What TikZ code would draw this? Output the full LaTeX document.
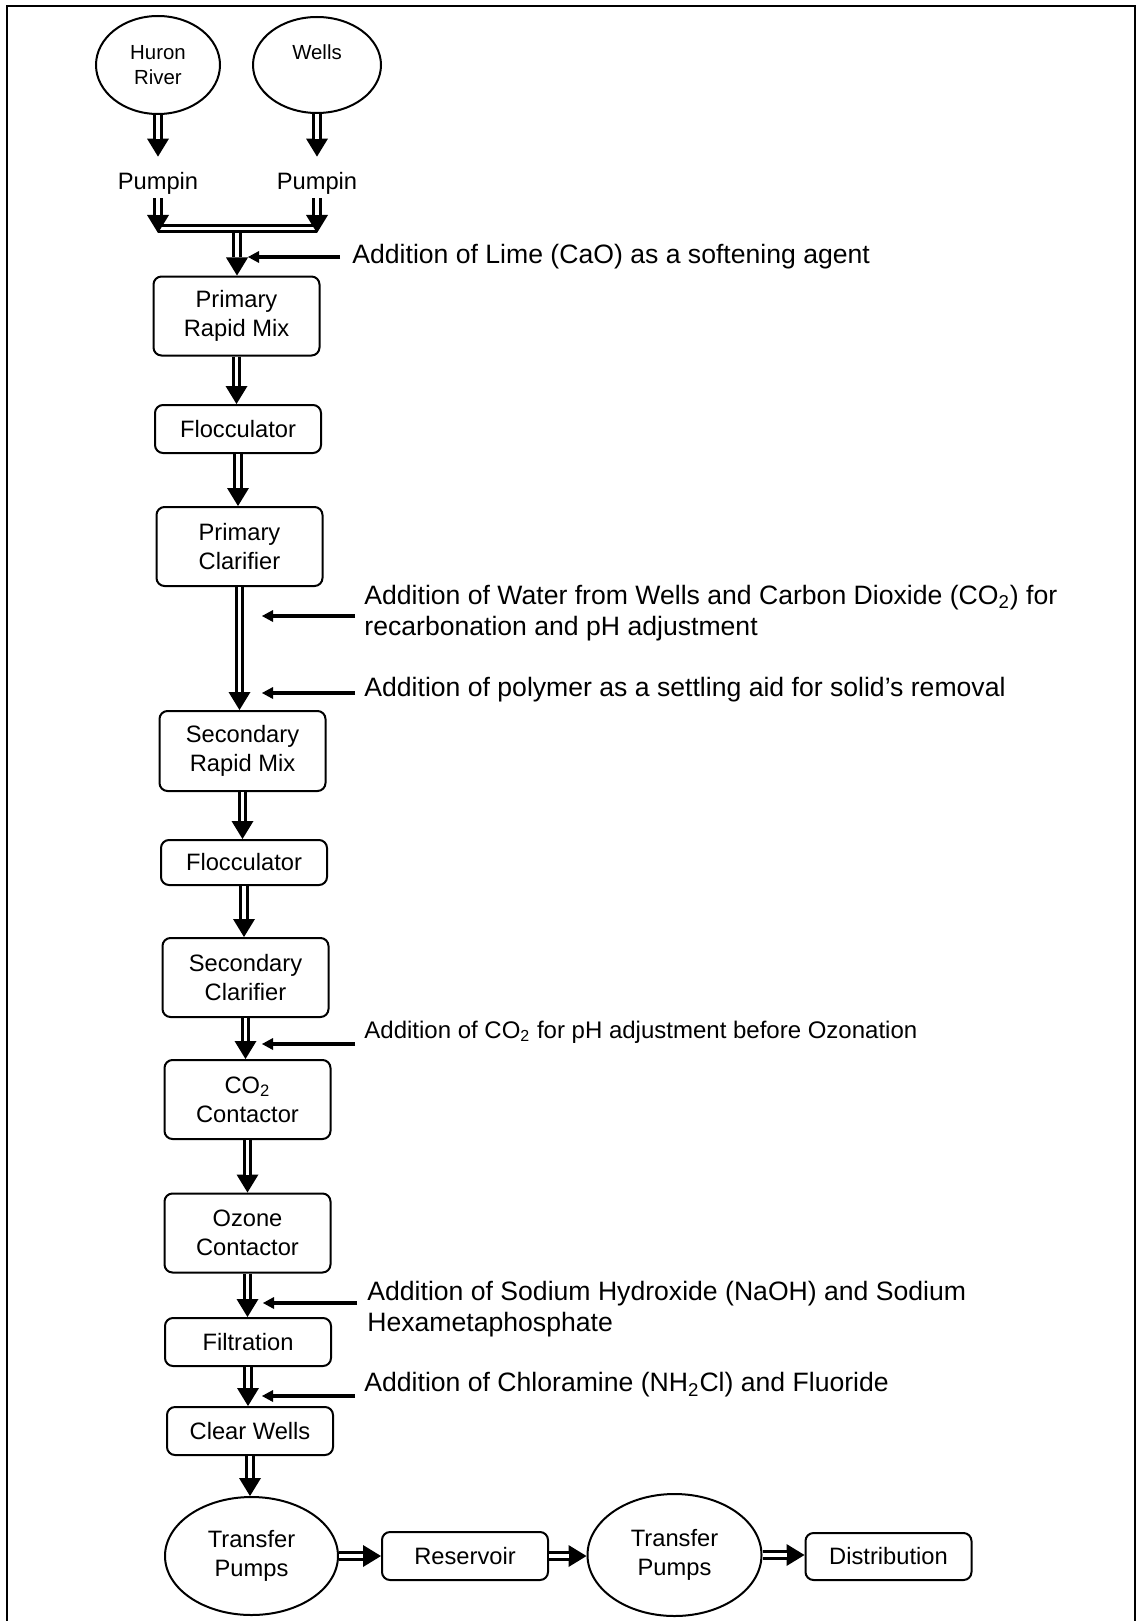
\documentclass[tikz,border=0pt]{standalone}
\usepackage{fontspec}
\setmainfont{Liberation Sans}
\usetikzlibrary{arrows.meta,shapes.geometric}
\newcommand\fbx{\fontsize{11.85}{14.4}\selectfont}
\newcommand\fsd{\fontsize{13.3}{15.5}\selectfont}
\newcommand\fsm{\fontsize{12}{14}\selectfont}
\newcommand\ftp{\fontsize{10.2}{12.5}\selectfont}
\begin{document}
\begin{tikzpicture}[x=0.5pt,y=-0.5pt,
 pbox/.style={draw, line width=1pt, rounded corners=4pt, align=center, font=\fbx, inner sep=0pt, minimum width=83pt},
 twol/.style={pbox, minimum height=39.5pt},
 onel/.style={pbox, minimum height=24pt},
 pell/.style={draw, ellipse, line width=1pt, align=center, inner sep=0pt},
 dbl/.style={line width=4.8pt, -{Triangle[width=11pt,length=9pt,line width=0pt]}, postaction={draw=white, line width=1.6pt, -, shorten >=9pt}},
 feed/.style={line width=1.6pt, -{Triangle[width=6pt,length=5.5pt,line width=0pt]}},
 side/.style={anchor=west, inner sep=0pt, align=left, font=\fsd},
 pump/.style={anchor=base, font=\fbx, inner sep=0pt, text height=16.5pt, text depth=4pt}]
\useasboundingbox (0,0) rectangle (1136,1621);
\draw[line width=1.3pt] (7,1621) -- (7,6) -- (1135,6) -- (1135,1621);

% sources
\node[pell, font=\ftp, minimum width=62pt, minimum height=49pt] (huron) at (158,65) {Huron\\River};
\node[pell, font=\ftp, minimum width=64pt, minimum height=48pt] (wells) at (317,65) {Wells\\\phantom{River}};
\node[pump] (pumpL) at (158,190) {Pumpin};
\node[pump] (pumpR) at (317,190) {Pumpin};

% process boxes
\node[twol] (prm) at (236.5,316) {Primary\\Rapid Mix};
\node[onel] (floc1) at (238,429) {Flocculator};
\node[twol] (pclar) at (239.5,546.5) {Primary\\Clarifier};
\node[twol, minimum height=40pt] (srm) at (242.5,751) {Secondary\\Rapid Mix};
\node[onel, minimum height=22.5pt] (floc2) at (244,862.5) {Flocculator};
\node[twol] (sclar) at (245.5,977.5) {Secondary\\Clarifier};
\node[twol] (co2c) at (247.5,1099.5) {CO\textsubscript{2}\\Contactor};
\node[twol] (ozc) at (247.5,1233) {Ozone\\Contactor};
\node[onel] (filt) at (248,1342) {Filtration};
\node[onel] (clw) at (250,1431) {Clear Wells};
\node[pell, font=\fbx, minimum width=86.5pt, minimum height=59pt] (tp1) at (251.5,1556) {Transfer\\Pumps};
\node[onel] (res) at (465,1556) {Reservoir};
\node[pell, font=\fbx, minimum width=87pt, minimum height=61pt] (tp2) at (674.5,1555) {Transfer\\Pumps};
\node[onel, minimum height=23.5pt] (dist) at (888.5,1556.5) {Distribution};

% junction
\coordinate (jl) at (158,228.5);
\coordinate (jr) at (317,228.5);
\coordinate (jlt) at (158,233);
\coordinate (jrt) at (317,233);
\coordinate (jm) at (237,233);
\draw[line width=4.6pt] (jl) -- (jr);
\draw[white, line width=1.6pt] (jl) -- (jr);

\draw[dbl] (huron.south) -- (pumpL.north);
\draw[dbl] (wells.south) -- (pumpR.north);
\draw[dbl] (pumpL.south) -- (jlt);
\draw[dbl] (pumpR.south) -- (jrt);
\draw[dbl] (jm) -- (jm |- prm.north);

% main flow
\draw[dbl] (prm.south) -- (prm.south |- floc1.north);
\draw[dbl] (floc1.south) -- (floc1.south |- pclar.north);
\draw[dbl] (pclar.south) -- (pclar.south |- srm.north);
\draw[dbl] (srm.south) -- (srm.south |- floc2.north);
\draw[dbl] (floc2.south) -- (floc2.south |- sclar.north);
\draw[dbl] (sclar.south) -- (sclar.south |- co2c.north);
\draw[dbl] (co2c.south) -- (co2c.south |- ozc.north);
\draw[dbl] (ozc.south) -- (ozc.south |- filt.north);
\draw[dbl] (filt.south) -- (filt.south |- clw.north);
\draw[dbl] (clw.south) -- (clw.south |- tp1.north);
\draw[dbl] (tp1.east) -- (tp1.east -| res.west);
\draw[dbl] (res.east) -- (res.east -| tp2.west);
\draw[dbl] (tp2.east) -- (tp2.east -| dist.west);

% additions
\node[side] (lime) at (352,257) {Addition of Lime (CaO) as a softening agent};
\node[side] (water) at (364,613) {Addition of Water from Wells and Carbon Dioxide (CO\textsubscript{2}) for\\recarbonation and pH adjustment};
\node[side] (poly) at (364,690) {Addition of polymer as a settling aid for solid’s removal};
\node[side, font=\fsm] (co2t) at (364,1032) {Addition of CO\textsubscript{2} for pH adjustment before Ozonation};
\node[side] (naoh) at (367,1309) {Addition of Sodium Hydroxide (NaOH) and Sodium\\Hexametaphosphate};
\node[side] (chl) at (364,1385) {Addition of Chloramine (NH\textsubscript{2}Cl) and Fluoride};

\coordinate (limeA) at (340,257); \coordinate (limeB) at (248,257);
\coordinate (waterA) at (355,616); \coordinate (waterB) at (262,616);
\coordinate (polyA) at (355,693); \coordinate (polyB) at (262,693);
\coordinate (co2A) at (355,1044); \coordinate (co2B) at (262,1044);
\coordinate (naohA) at (357,1303); \coordinate (naohB) at (263,1303);
\coordinate (chlA) at (355,1396); \coordinate (chlB) at (262,1396);
\draw[feed] (limeA) -- (limeB);
\draw[feed] (waterA) -- (waterB);
\draw[feed] (polyA) -- (polyB);
\draw[feed] (co2A) -- (co2B);
\draw[feed] (naohA) -- (naohB);
\draw[feed] (chlA) -- (chlB);
\end{tikzpicture}
\end{document}
